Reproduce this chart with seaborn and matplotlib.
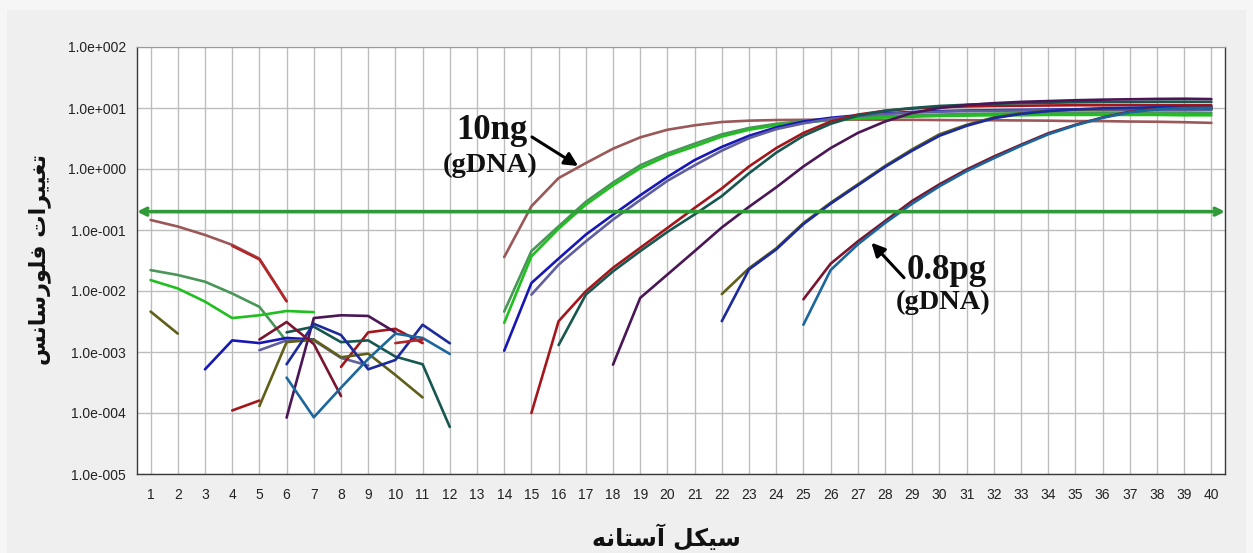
import numpy as np
import pandas as pd
import matplotlib
matplotlib.use("Agg")
import matplotlib.pyplot as plt
import seaborn as sns
from matplotlib import font_manager
from matplotlib.patches import Rectangle
from matplotlib.ticker import FixedLocator, FuncFormatter, NullLocator

nan = np.nan

CYCLES = list(range(1, 41))
THRESHOLD = 0.2
Y_TICKS = [1e-5, 1e-4, 1e-3, 1e-2, 1e-1, 1e0, 1e1, 1e2]

# Fluorescence change per cycle (cycles 1..40); nan = no point plotted
S01 = [0.146, 0.114, 0.083, 0.057, 0.034, 0.0068, nan, nan, nan, nan,
       nan, nan, nan, 0.036, 0.245, 0.71, 1.25, 2.15, 3.3, 4.4,
       5.2, 5.9, 6.2, 6.35, 6.4, 6.45, 6.45, 6.4, 6.4, 6.35,
       6.3, 6.3, 6.25, 6.2, 6.1, 6.1, 6.0, 5.95, 5.85, 5.7]
S02 = [0.022, 0.0183, 0.0142, 0.0091, 0.0055, 0.0015, nan, nan, nan, nan,
       nan, nan, nan, 0.0046, 0.045, 0.115, 0.29, 0.60, 1.15, 1.8,
       2.6, 3.7, 4.7, 5.5, 6.1, 6.6, 7.0, 7.3, 7.6, 7.8,
       8.0, 8.1, 8.2, 8.3, 8.3, 8.4, 8.4, 8.4, 8.4, 8.3]
S03 = [0.0151, 0.011, 0.0067, 0.0036, 0.0040, 0.0047, 0.0045, nan, nan, nan,
       nan, nan, nan, 0.0030, 0.037, 0.105, 0.26, 0.54, 1.03, 1.65,
       2.35, 3.4, 4.4, 5.2, 5.8, 6.3, 6.7, 7.0, 7.2, 7.4,
       7.5, 7.6, 7.6, 7.7, 7.7, 7.7, 7.7, 7.7, 7.6, 7.6]
S04 = [nan, nan, 0.00052, 0.00155, 0.0014, 0.0017, 0.0016, nan, nan, nan,
       nan, nan, nan, 0.00105, 0.0135, 0.034, 0.084, 0.178, 0.37, 0.74,
       1.4, 2.3, 3.5, 4.8, 6.0, 6.9, 7.6, 8.2, 8.6, 8.9,
       9.1, 9.2, 9.3, 9.4, 9.5, 9.5, 9.6, 9.6, 9.6, 9.6]
S05 = [nan, nan, nan, nan, 0.00107, 0.00155, 0.00155, 0.0008, 0.0006, nan,
       nan, nan, nan, nan, 0.0087, 0.027, 0.065, 0.148, 0.31, 0.64,
       1.15, 2.0, 3.2, 4.5, 5.6, 6.6, 7.4, 8.0, 8.4, 8.7,
       8.9, 9.0, 9.1, 9.2, 9.2, 9.3, 9.3, 9.3, 9.3, 9.3]
S06 = [nan, nan, nan, 0.00011, 0.00016, nan, nan, 0.00057, 0.0021, 0.0024,
       0.0014, nan, nan, nan, 0.0001, 0.0032, 0.0099, 0.024, 0.051, 0.108,
       0.23, 0.48, 1.1, 2.2, 3.9, 6.0, 7.8, 9.0, 9.8, 10.3,
       10.6, 10.8, 10.9, 11.0, 11.1, 11.1, 11.2, 11.2, 11.2, 11.1]
S07 = [nan, nan, nan, nan, nan, 0.0021, 0.0026, 0.00145, 0.00155, 0.00084,
       0.00063, 5.9e-5, nan, nan, nan, 0.0013, 0.0087, 0.021, 0.045, 0.093,
       0.18, 0.36, 0.85, 1.85, 3.5, 5.5, 7.5, 9.0, 10.0, 10.8,
       11.3, 11.7, 12.0, 12.2, 12.4, 12.5, 12.6, 12.7, 12.7, 12.6]
S08 = [nan, nan, nan, nan, nan, 8.4e-5, 0.0036, 0.0040, 0.0039, 0.0021,
       nan, nan, nan, nan, nan, nan, nan, 0.00062, 0.0077, 0.0186,
       0.045, 0.11, 0.24, 0.50, 1.1, 2.2, 3.9, 6.0, 8.3, 10.0,
       11.2, 12.0, 12.6, 13.0, 13.4, 13.7, 13.9, 14.1, 14.2, 14.0]
S09 = [0.0046, 0.0020, nan, nan, 0.00013, 0.00145, 0.0016, 0.00082, 0.00094, 0.00042,
       0.00018, nan, nan, nan, nan, nan, nan, nan, nan, nan,
       nan, 0.0089, 0.0236, 0.05, 0.13, 0.28, 0.56, 1.12, 2.1, 3.7,
       5.3, 7.0, 8.2, 9.0, 9.4, 9.6, 9.7, 9.8, 9.8, 9.8]
S10 = [nan, nan, nan, nan, nan, 0.00063, 0.0029, 0.0019, 0.00052, 0.00074,
       0.0028, 0.00139, nan, nan, nan, nan, nan, nan, nan, nan,
       nan, 0.0032, 0.0226, 0.048, 0.125, 0.27, 0.54, 1.08, 2.0, 3.5,
       5.1, 6.8, 8.0, 8.9, 9.5, 9.9, 10.1, 10.3, 10.4, 10.4]
S11 = [nan, nan, nan, nan, 0.0016, 0.0031, 0.00135, 0.00019, nan, nan,
       nan, nan, nan, nan, nan, nan, nan, nan, nan, nan,
       nan, nan, nan, nan, 0.0073, 0.028, 0.065, 0.14, 0.30, 0.56,
       0.98, 1.6, 2.5, 3.85, 5.3, 7.0, 8.7, 9.7, 10.2, 10.4]
S12 = [nan, nan, nan, nan, nan, 0.00038, 8.5e-5, 0.00026, 0.00077, 0.0020,
       0.0017, 0.00093, nan, nan, nan, nan, nan, nan, nan, nan,
       nan, nan, nan, nan, 0.0028, 0.022, 0.058, 0.13, 0.27, 0.52,
       0.92, 1.5, 2.4, 3.7, 5.2, 6.9, 8.5, 9.5, 10.0, 10.1]
S13 = [nan, nan, nan, 0.055, 0.033, 0.0068, nan, nan, nan, 0.0014,
       0.0016, nan, nan, nan, nan, nan, nan, nan, nan, nan,
       nan, nan, nan, nan, nan, nan, nan, nan, nan, nan,
       nan, nan, nan, nan, nan, nan, nan, nan, nan, nan]

SAMPLES = {"S01": S01, "S02": S02, "S03": S03, "S04": S04, "S05": S05,
           "S06": S06, "S07": S07, "S08": S08, "S09": S09, "S10": S10,
           "S11": S11, "S12": S12, "S13": S13}
COLORS = {"S01": "#9a5858", "S02": "#4a9658", "S03": "#1fbf1f", "S04": "#1717b5",
          "S05": "#5f5f9f", "S06": "#a3161c", "S07": "#17574f", "S08": "#4a1656",
          "S09": "#5f5f1a", "S10": "#1c2b9c", "S11": "#7a1530", "S12": "#1b679c",
          "S13": "#b3262a"}

Y_LABEL = "تغییرات فلورسانس"
X_LABEL = "سیکل آستانه"

# --- minimal Persian shaping (contextual forms + visual order) ---
_FORMS = {
    "ا": ("\ufe8d", "\ufe8e"), "آ": ("\ufe81", "\ufe82"),
    "ر": ("\ufead", "\ufeae"), "و": ("\ufeed", "\ufeee"),
    "ت": ("\ufe95", "\ufe96", "\ufe97", "\ufe98"),
    "غ": ("\ufecd", "\ufece", "\ufecf", "\ufed0"),
    "ف": ("\ufed1", "\ufed2", "\ufed3", "\ufed4"),
    "ل": ("\ufedd", "\ufede", "\ufedf", "\ufee0"),
    "س": ("\ufeb1", "\ufeb2", "\ufeb3", "\ufeb4"),
    "ن": ("\ufee5", "\ufee6", "\ufee7", "\ufee8"),
    "ه": ("\ufee9", "\ufeea", "\ufeeb", "\ufeec"),
    "\u06a9": ("\ufb8e", "\ufb8f", "\ufb90", "\ufb91"),
    "\u0643": ("\ufed9", "\ufeda", "\ufedb", "\ufedc"),
    "\u06cc": ("\ufbfc", "\ufbfd", "\ufbfe", "\ufbff"),
    "\u064a": ("\ufef1", "\ufef2", "\ufef3", "\ufef4"),
}


def shape_fa(text):
    out = []
    for i, ch in enumerate(text):
        forms = _FORMS.get(ch)
        if forms is None:
            out.append(ch)
            continue
        prev = text[i - 1] if i > 0 else ""
        nxt = text[i + 1] if i + 1 < len(text) else ""
        join_prev = prev in _FORMS and len(_FORMS[prev]) == 4
        join_next = len(forms) == 4 and nxt in _FORMS
        if join_prev and join_next:
            out.append(forms[3])
        elif join_prev:
            out.append(forms[1])
        elif join_next:
            out.append(forms[2])
        else:
            out.append(forms[0])
    return "".join(reversed(out))


# --- long-form table, one unit per contiguous run of points ---
rows = []
seg_id = 0
for name, values in SAMPLES.items():
    prev_ok = False
    for c, v in zip(CYCLES, values):
        ok = not np.isnan(v)
        if ok and not prev_ok:
            seg_id += 1
        if ok:
            rows.append({"cycle": c, "fluor": v, "sample": name, "seg": seg_id})
        prev_ok = ok
df = pd.DataFrame(rows)

sns.set_style("white")
installed = {f.name for f in font_manager.fontManager.ttflist}
tick_family = "Liberation Sans Narrow" if "Liberation Sans Narrow" in installed else "Liberation Sans"
plt.rcParams["font.family"] = ["Liberation Sans", "DejaVu Sans"]

fig = plt.figure(figsize=(12.53, 5.53), dpi=100, facecolor="#f6f6f6")
fig.patches.append(Rectangle((7 / 1253, 0), 1 - 14 / 1253, 1 - 10 / 553,
                             transform=fig.transFigure, facecolor="#efefef",
                             edgecolor="none", zorder=-10))
ax = fig.add_axes([137 / 1253, 79 / 553, 1088 / 1253, 427 / 553])
ax.set_zorder(1)
ax.set_facecolor("white")

sns.lineplot(data=df, x="cycle", y="fluor", hue="sample", units="seg",
             estimator=None, palette=COLORS, hue_order=list(SAMPLES),
             linewidth=1.9, legend=False, ax=ax, zorder=3)

ax.set_yscale("log")
ax.set_xlim(0.5, 40.5)
ax.set_ylim(1e-5, 1e2)
ax.xaxis.set_major_locator(FixedLocator(CYCLES))
ax.yaxis.set_major_locator(FixedLocator(Y_TICKS))
ax.yaxis.set_minor_locator(NullLocator())


def exp_fmt(v, _pos):
    e = int(round(np.log10(v)))
    return f"1.0e{'+' if e >= 0 else '-'}{abs(e):03d}"


ax.yaxis.set_major_formatter(FuncFormatter(exp_fmt))
ax.grid(True, which="major", color="#bdbdbd", linewidth=1.0, zorder=0)
ax.set_axisbelow(True)
ax.tick_params(axis="both", length=0)
ax.tick_params(axis="x", pad=10, labelsize=10, labelcolor="#222222")
ax.tick_params(axis="y", pad=8, labelsize=10, labelcolor="#222222")
for lab in ax.get_xticklabels():
    lab.set_fontfamily(tick_family)
for side in ("left", "bottom", "right"):
    ax.spines[side].set_color("#3a3a3a")
    ax.spines[side].set_linewidth(1.0)
ax.spines["top"].set_color("#9a9a9a")
ax.set_xlabel("")
ax.set_ylabel("")

# threshold line with arrow heads at both ends
ax.annotate("", xy=(1, THRESHOLD), xytext=(0, THRESHOLD),
            xycoords=("axes fraction", "data"), textcoords=("axes fraction", "data"),
            arrowprops=dict(arrowstyle="<->", color="#2f9a37", lw=2.6,
                            shrinkA=0, shrinkB=0, mutation_scale=12), zorder=4)

# dilution annotations
serif = dict(family="Liberation Serif", weight="bold", color="#111111")
ax.text(13.55, 4.3, "10ng", ha="center", va="center", fontsize=25, zorder=6, **serif)
ax.text(13.5, 1.16, "(gDNA)", ha="center", va="center", fontsize=20.5, zorder=6, **serif)
ax.annotate("", xy=(16.72, 1.12), xytext=(15.02, 3.35),
            arrowprops=dict(arrowstyle="-|>", color="black", lw=2.2,
                            mutation_scale=20, shrinkA=0, shrinkB=0), zorder=6)
ax.text(30.25, 0.022, "0.8pg", ha="center", va="center", fontsize=25, zorder=6, **serif)
ax.text(30.15, 0.0066, "(gDNA)", ha="center", va="center", fontsize=20.5, zorder=6, **serif)
ax.annotate("", xy=(27.5, 0.062), xytext=(28.7, 0.0165),
            arrowprops=dict(arrowstyle="-|>", color="black", lw=2.2,
                            mutation_scale=20, shrinkA=0, shrinkB=0), zorder=6)

# axis titles (Persian)
fig.text(40 / 1253, 1 - 259 / 553, shape_fa(Y_LABEL), rotation=90, ha="center",
         va="center", fontsize=16, fontweight="bold", family=["DejaVu Sans"],
         color="#111111")
fig.text(666 / 1253, 1 - 537 / 553, shape_fa(X_LABEL), ha="center", va="center",
         fontsize=17, fontweight="bold", family=["DejaVu Sans"], color="#111111")

fig.savefig("out.png", dpi=100, facecolor=fig.get_facecolor())
